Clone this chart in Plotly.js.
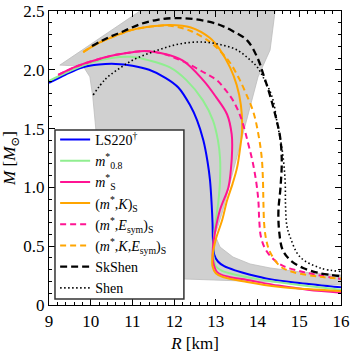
<!DOCTYPE html>
<html>
<head>
<meta charset="utf-8">
<script src="https://cdn.plot.ly/plotly-3.0.1.min.js"></script>
<style>
  html, body { margin: 0; padding: 0; background: #fff; }
  #chart { width: 353px; height: 353px; }
  #chart svg text { font-family: "Liberation Serif", "DejaVu Serif", serif !important; }
</style>
</head>
<body>
<div id="chart"></div>
<script>
// --- Data (R in km, M in solar masses) ---
const bandR = [9.26, 11.18, 14.42, 14.30, 14.01, 13.80, 13.58, 13.34, 13.15, 12.98, 13.10, 13.41, 13.82, 14.30, 15.02, 16.0,
               16.0, 15.02, 14.30, 12.26, 11.40, 10.70, 10.35, 10.20, 10.10, 10.05, 9.98, 9.82, 9.26];
const bandM = [2.04, 2.50, 2.50, 2.168, 1.939, 1.658, 1.361, 1.02, 0.782, 0.595, 0.493, 0.408, 0.349, 0.315, 0.281, 0.255,
               0.17, 0.183, 0.196, 0.221, 0.25, 0.40, 0.70, 1.20, 1.57, 1.77, 1.94, 2.03, 2.04];

const ls220R = [9.0, 9.4, 9.8, 10.2, 10.6, 11.0, 11.4, 11.8, 12.1, 12.38, 12.55, 12.7, 12.8, 12.86, 12.9, 12.92, 12.93, 12.96, 13.05, 13.2, 13.5, 13.8, 14.3, 15.0, 16.0];
const ls220M = [1.888, 1.96, 2.02, 2.045, 2.05, 2.035, 2.0, 1.93, 1.85, 1.70, 1.57, 1.40, 1.22, 1.06, 0.85, 0.70, 0.55, 0.43, 0.37, 0.33, 0.29, 0.26, 0.22, 0.187, 0.15];

const m08R = [9.0, 9.5, 10.0, 10.5, 10.95, 11.4, 11.9, 12.3, 12.69, 12.93, 13.05, 13.1, 13.1, 13.06, 13.0, 12.95, 12.94, 13.0, 13.15, 13.5, 14.0, 15.0, 16.0];
const m08M = [1.905, 1.99, 2.06, 2.10, 2.11, 2.08, 2.02, 1.91, 1.74, 1.57, 1.40, 1.25, 1.06, 0.88, 0.72, 0.56, 0.42, 0.33, 0.29, 0.255, 0.22, 0.17, 0.13];

const mSR = [9.22, 9.6, 10.0, 10.5, 11.0, 11.3, 11.7, 12.2, 12.7, 13.0, 13.27, 13.38, 13.39, 13.36, 13.3, 13.1, 12.98, 12.93, 12.93, 13.03, 13.3, 13.75, 14.5, 15.2, 16.0];
const mSM = [1.956, 2.02, 2.07, 2.12, 2.15, 2.16, 2.14, 2.08, 1.91, 1.77, 1.62, 1.45, 1.32, 1.15, 1.0, 0.81, 0.62, 0.49, 0.38, 0.28, 0.24, 0.213, 0.165, 0.13, 0.105];

const mKR = [9.82, 10.2, 10.6, 11.0, 11.5, 11.9, 12.4, 12.86, 13.1, 13.34, 13.5, 13.6, 13.63, 13.58, 13.51, 13.4, 13.27, 13.15, 13.0, 12.92, 12.92, 13.0, 13.17, 13.75, 14.5, 15.2, 16.0];
const mKM = [2.151, 2.23, 2.29, 2.34, 2.37, 2.381, 2.36, 2.27, 2.17, 2.02, 1.87, 1.70, 1.49, 1.33, 1.17, 1.03, 0.89, 0.72, 0.56, 0.42, 0.33, 0.27, 0.238, 0.196, 0.155, 0.135, 0.118];

const mEsR = [9.22, 9.6, 10.0, 10.5, 11.0, 11.3, 11.7, 12.1, 12.5, 12.8, 13.03, 13.25, 13.41, 13.55, 13.65, 13.77, 13.88, 13.97, 14.02, 14.04, 14.08, 14.18, 14.35, 14.61, 15.09, 15.5, 16.0];
const mEsM = [1.956, 2.02, 2.07, 2.12, 2.15, 2.16, 2.14, 2.09, 2.02, 1.96, 1.91, 1.82, 1.74, 1.64, 1.54, 1.38, 1.22, 1.04, 0.88, 0.72, 0.58, 0.48, 0.40, 0.332, 0.281, 0.25, 0.221];

const mKEsR = [9.82, 10.2, 10.6, 11.0, 11.5, 11.9, 12.4, 12.86, 13.1, 13.34, 13.55, 13.72, 13.9, 14.02, 14.1, 14.13, 14.14, 14.16, 14.21, 14.3, 14.54, 14.85, 15.5, 16.0];
const mKEsM = [2.151, 2.23, 2.29, 2.34, 2.37, 2.375, 2.33, 2.236, 2.16, 2.06, 1.93, 1.80, 1.64, 1.45, 1.25, 1.05, 0.87, 0.68, 0.55, 0.45, 0.33, 0.28, 0.24, 0.225];

const skShenR = [10.03, 10.4, 10.8, 11.2, 11.6, 12.02, 12.5, 13.03, 13.4, 13.75, 14.0, 14.13, 14.3, 14.45, 14.54, 14.58, 14.55, 14.5, 14.52, 14.6, 14.78, 15.09, 15.5, 16.0];
const skShenM = [2.202, 2.27, 2.33, 2.39, 2.425, 2.44, 2.43, 2.39, 2.33, 2.25, 2.10, 1.97, 1.78, 1.58, 1.43, 1.23, 1.0, 0.80, 0.62, 0.47, 0.383, 0.315, 0.27, 0.245];

const shenR = [10.06, 10.35, 10.7, 11.05, 11.42, 11.8, 12.21, 12.69, 13.1, 13.51, 13.8, 13.99, 14.13, 14.35, 14.47, 14.59, 14.66, 14.67, 14.7, 14.78, 15.02, 15.5, 16.0];
const shenM = [1.786, 1.92, 2.015, 2.09, 2.143, 2.19, 2.225, 2.236, 2.215, 2.168, 2.09, 2.024, 1.939, 1.769, 1.548, 1.318, 1.063, 0.85, 0.68, 0.578, 0.408, 0.315, 0.285];

const yTicks = [0, 0.5, 1.0, 1.5, 2.0, 2.5];
const yTickText = ['0', '0.5', '1.0', '1.5', '2.0', '2.5'];
const xTicks = [9, 10, 11, 12, 13, 14, 15, 16];

const serif = 'Liberation Serif';

// --- Traces ---
function curve(x, y, name, color, dash, width) {
    return {
        x: x, y: y, name: name, type: 'scatter', mode: 'lines',
        line: { color: color, width: width || 2, dash: dash || 'solid', shape: 'spline', smoothing: 1 }
    };
}

const traces = [
    { x: bandR, y: bandM, type: 'scatter', mode: 'lines', fill: 'toself', fillcolor: '#d0d0d0',
      line: { color: '#bdbdbd', width: 0.8 }, showlegend: false, hoverinfo: 'skip' },
    curve(ls220R, ls220M, 'LS220<sup>†</sup>', '#0000ff'),
    curve(m08R, m08M, '<i>m</i><sup>*</sup><sub>0.8</sub>', '#90ee90'),
    curve(mSR, mSM, '<i>m</i><sup>*</sup><sub>S</sub>', '#ff1493'),
    curve(mKR, mKM, '(<i>m</i><sup>*</sup>,<i>K</i>)<sub>S</sub>', '#ffa500'),
    curve(mEsR, mEsM, '(<i>m</i><sup>*</sup>,<i>E</i><sub>sym</sub>)<sub>S</sub>', '#ff1493', '6px,4px'),
    curve(mKEsR, mKEsM, '(<i>m</i><sup>*</sup>,<i>K</i>,<i>E</i><sub>sym</sub>)<sub>S</sub>', '#ffa500', '6px,4px'),
    curve(skShenR, skShenM, 'SkShen', '#000000', '7px,4px', 2.3),
    curve(shenR, shenM, 'Shen', '#000000', '1.5px,2.5px', 1.6)
];

const axisBase = {
    showline: true, linecolor: '#000', linewidth: 1.2, mirror: 'ticks',
    ticks: 'inside', ticklen: 6, tickwidth: 1, tickcolor: '#000',
    showgrid: false, zeroline: false,
    tickfont: { family: serif, size: 17, color: '#000' }
};

const layout = {
    width: 353, height: 353,
    margin: { l: 49, r: 12, t: 11, b: 48 },
    paper_bgcolor: '#fff', plot_bgcolor: '#fff',
    font: { family: serif, color: '#000' },
    showlegend: true,
    legend: {
        x: 0.021, y: 0.616, xanchor: 'left', yanchor: 'top',
        bgcolor: 'rgba(0,0,0,0)', borderwidth: 0,
        font: { family: serif, size: 14, color: '#000' }
    },
    // legend frame drawn as a box so it matches the reference size
    shapes: [{
        type: 'rect', xref: 'paper', yref: 'paper', layer: 'above',
        x0: 0.0205, x1: 0.462, y0: 0.0204, y1: 0.595,
        fillcolor: '#fff', line: { color: '#333', width: 1.5 }
    }],
    xaxis: {
        ...axisBase, range: [9, 16], tickvals: xTicks,
        minor: { ticks: 'inside', ticklen: 3, dtick: 0.2, tickcolor: '#000' },
        title: { text: '<i>R</i> [km]', font: { family: serif, size: 17 }, standoff: 8 }
    },
    yaxis: {
        ...axisBase, range: [0, 2.5], tickvals: yTicks, ticktext: yTickText,
        minor: { ticks: 'inside', ticklen: 3, dtick: 0.1, tickcolor: '#000' },
        title: { text: '<i>M</i> [<i>M</i><sub>⊙</sub>]', font: { family: serif, size: 17 }, standoff: 6 }
    }
};

Plotly.newPlot('chart', traces, layout, { displayModeBar: false, staticPlot: true });
</script>
</body>
</html>
